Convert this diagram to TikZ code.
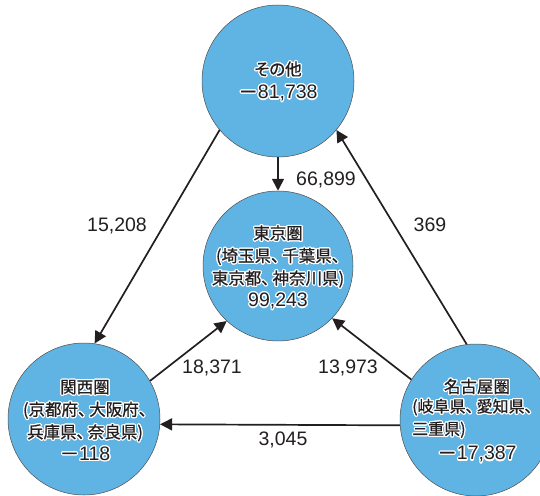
\documentclass[tikz,border=0pt]{standalone}
\usepackage{fontspec}
\setmainfont{Liberation Sans}
\newfontfamily\jp[RawFeature=+palt,FakeBold=0.8]{Noto Sans CJK JP}
\usepackage{contour}
\contourlength{1.2pt}
\contournumber{16}
\usetikzlibrary{arrows.meta}
\definecolor{circfill}{RGB}{96,180,228}
\definecolor{ink}{RGB}{35,31,32}
\newcommand\hl[1]{\contour{white}{#1}}
\newcommand\jm{{\jp －}}
\newcommand\tn{、\hspace{3pt}}
\newcommand\bignum{\fontsize{19.5}{22.5}\selectfont}
\tikzset{
  region/.style={circle,fill=circfill,draw=ink!80,line width=0.5pt,minimum size=152pt,inner sep=0pt},
  flow/.style={draw=ink,line width=1.7pt,-{Triangle[length=12pt,width=12pt]}},
  num/.style={text=ink,font=\bignum,inner sep=1pt},
  ctext/.style={text=ink,align=center,inner sep=0pt,font=\fontsize{16.5}{22.5}\selectfont},
  ltext/.style={text=ink,align=left,inner sep=0pt,font=\fontsize{16}{22.5}\selectfont},
}
\begin{document}
\begin{tikzpicture}[x=1pt,y=-1pt]
\useasboundingbox (0,0) rectangle (540,495);
\clip (0,0) rectangle (540,495);
\node[region] (T) at (278,81) {};
\node[region,minimum size=150pt] (C) at (278,266) {};
\node[region] (L) at (84,419) {};
\node[region] (R) at (476,420) {};

\node[ctext] (Tt) at (278,82) {\hl{\jp その他}\\[1pt]\hl{\bignum\jm81,738}};
\node[ctext] (Ct) at (278,268) {\hl{\jp 東京圏}\\\hl{\jp (埼玉県\tn 千葉県、}\\\hl{\jp 東京都\tn 神奈川県)}\\\hl{\bignum 99,243}};
\node[ctext] (Lt) at (85,421) {\hl{\jp 関西圏}\\\hl{\jp (京都府\tn 大阪府、}\\\hl{\jp 兵庫県\tn 奈良県)}\\\hl{\bignum\jm118}};
\node[ctext] (Rt1) at (477,387) {\hl{\jp 名古屋圏}};
\node[ltext,anchor=west] (Rt2) at (412,419) {\hl{\jp (岐阜県\tn 愛知県、}\\\hl{\jp 三重県)}};
\node[ctext] (Rt3) at (477,455) {\hl{\bignum\jm17,387}};

\draw[flow] (T.-90) -- (C.90);
\draw[flow] (T.-140.8) -- (L.82);
\draw[flow] (R.97) -- (T.-40.4);
\draw[flow] (L.30.6) -- (C.-133.5);
\draw[flow] (R.148.8) -- (C.-44.5);
\draw[flow] (R.184) -- (L.-4.4);

\node[num] (n1) at (326,180) {66,899};
\node[num] (n2) at (117,226) {15,208};
\node[num] (n3) at (430,225) {369};
\node[num] (n4) at (212,368) {18,371};
\node[num] (n5) at (348,368) {13,973};
\node[num] (n6) at (283,440) {3,045};
\end{tikzpicture}
\end{document}
